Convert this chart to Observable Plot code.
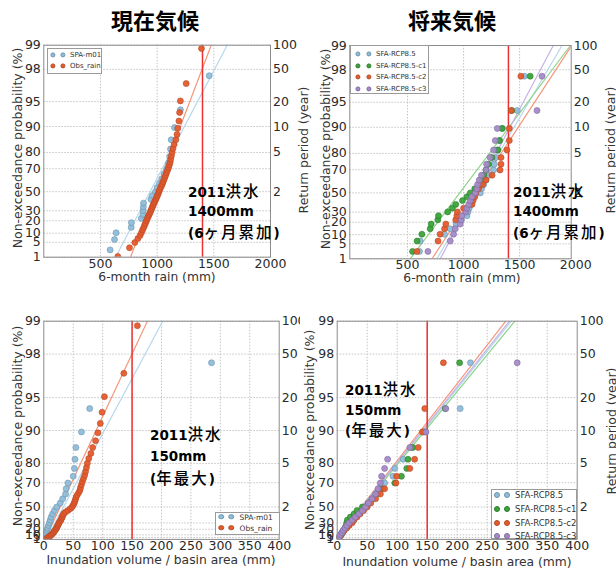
<!DOCTYPE html>
<html><head><meta charset="utf-8">
<script src="https://cdn.jsdelivr.net/npm/d3@7"></script>
<script src="https://cdn.jsdelivr.net/npm/@observablehq/plot@0.6"></script>
<style>
body{margin:0;background:#fff}
#root{position:relative;width:616px;height:568px;overflow:hidden;font-family:"DejaVu Sans",sans-serif;color:#333;background:#fff}
#root svg{position:absolute}
.rot{position:absolute;white-space:nowrap;transform:translate(-50%,-50%) rotate(-90deg);font-size:12.5px;color:#333}
.xt{position:absolute;white-space:nowrap;transform:translate(-50%,-50%);font-size:12.3px;color:#333}
.title{position:absolute;transform:translate(-50%,-50%);font-family:"Noto Sans CJK JP",sans-serif;font-weight:bold;font-size:22px;color:#000;white-space:nowrap}
.ann{position:absolute;white-space:nowrap;color:#000;transform:translateY(-50%)}
.ann b{font-family:"DejaVu Sans",sans-serif;font-weight:bold;font-size:13.5px}
.ann span{font-family:"Noto Sans CJK JP",sans-serif;font-weight:500;font-size:15.5px;letter-spacing:2px}
.leg{position:absolute;background:#fff;border:1px solid #9a9a9a;box-sizing:border-box}
.ld{position:absolute;border-radius:50%;transform:translate(-50%,-50%);box-sizing:border-box}
.lt{position:absolute;transform:translateY(-50%);white-space:nowrap;color:#333;font-family:"DejaVu Sans",sans-serif}
</style></head>
<body>
<div id="root"></div>
<script>
// ---------- axis tick labels ----------
const probTicks = [1, 5, 10, 20, 30, 50, 70, 80, 90, 95, 98, 99];   // non-exceedance probability (%)
const returnTicks = [2, 5, 10, 20, 50, 100];                          // return period (year)
const rainTicks = [500, 1000, 1500, 2000];
const inunTicks = [0, 50, 100, 150, 200, 250, 300, 350, 400];
const fitP = [1, 99];   // probabilities of the fit-line end points

// plotting positions (%) of the ranked samples
const pct25 = [2.4, 6.3, 10.3, 14.3, 18.3, 22.2, 26.2, 30.2, 34.1, 38.1, 42.1, 46.0, 50.0, 54.0, 57.9, 61.9, 65.9, 69.8, 73.8, 77.8, 81.7, 85.7, 89.7, 93.7, 97.6];
const pct53 = [1.1, 3.0, 4.9, 6.8, 8.6, 10.5, 12.4, 14.3, 16.2, 18.0, 19.9, 21.8, 23.7, 25.6, 27.4, 29.3, 31.2, 33.1, 35.0, 36.8, 38.7, 40.6, 42.5, 44.4, 46.2, 48.1, 50.0, 51.9, 53.8, 55.6, 57.5, 59.4, 61.3, 63.2, 65.0, 66.9, 68.8, 70.7, 72.6, 74.4, 76.3, 78.2, 80.1, 82.0, 83.8, 85.7, 87.6, 89.5, 91.4, 93.2, 95.1, 97.0, 98.9];

// ---------- top-left: present climate, 6-month rain (mm) ----------
const tlSPA = [585, 624, 638, 771, 773, 860, 875, 877, 878, 880, 945, 958, 985, 1000, 1020, 1040, 1060, 1085, 1100, 1110, 1118, 1124, 1153, 1205, 1459];
const tlObs = [653, 756, 803, 830, 850, 862, 872, 882, 890, 898, 905, 912, 920, 928, 935, 942, 948, 955, 962, 968, 975, 982, 990, 996, 1003, 1010, 1016, 1022, 1030, 1038, 1046, 1053, 1060, 1068, 1075, 1083, 1092, 1100, 1108, 1115, 1120, 1126, 1132, 1140, 1150, 1165, 1175, 1182, 1192, 1198, 1205, 1256, 1391];
const tlFitSPA = [633, 1618];
const tlFitObs = [765, 1477];

// ---------- top-right: future climate, 6-month rain (mm) ----------
const trBase = [607, 613, 830, 880, 932, 980, 1030, 1040, 1050, 1060, 1070, 1090, 1149, 1160, 1180, 1200, 1230, 1268, 1274, 1289, 1300, 1319, 1348, 1479, 1542];
const trC1 = [545, 585, 628, 702, 711, 770, 776, 858, 900, 930, 990, 1030, 1060, 1100, 1151, 1165, 1180, 1200, 1223, 1253, 1307, 1321, 1342, 1430, 1594];
const trC2 = [584, 772, 791, 830, 842, 930, 940, 945, 1000, 1075, 1085, 1100, 1110, 1134, 1170, 1200, 1254, 1325, 1334, 1334, 1387, 1408, 1408, 1425, 1511];
const trC3 = [682, 881, 911, 926, 970, 979, 985, 1021, 1030, 1045, 1060, 1075, 1104, 1119, 1125, 1140, 1160, 1200, 1205, 1236, 1268, 1283, 1301, 1655, 1700];
const trFitBase = [762, 1878];
const trFitC1 = [524, 1953];
const trFitC2 = [718, 1965];
const trFitC3 = [792, 1800];

// ---------- bottom-left: present climate, inundation volume / basin area (mm) ----------
const blSPA = [0.5, 1.5, 2.5, 3.5, 5, 6.5, 8, 9.5, 11, 12.5, 15, 18, 22, 28, 32, 37, 38, 41, 50, 52, 53, 54.5, 64, 78, 285];
const blObs = [2, 5, 7, 9.5, 11.5, 13.5, 15, 16.5, 17.5, 19, 20.5, 21.5, 22.5, 23.5, 24.5, 25.5, 26.5, 28.5, 29.5, 30.5, 31.5, 32.5, 34, 37, 41, 45, 48, 50, 51.5, 52.7, 54, 55, 57, 59.5, 61.5, 62.5, 64, 65.5, 67.5, 69.5, 71, 72.5, 74, 76.5, 80, 83, 88, 92, 96, 99, 103, 136, 159];
const blFitSPA = [4, 202];
const blFitObs = [2, 176];

// ---------- bottom-right: future climate, inundation volume / basin area (mm) ----------
const brBase = [1, 3, 5, 8, 11, 14, 18, 22, 26, 30, 35, 40, 46, 52, 58, 64, 71, 79, 93, 96, 110, 123, 146, 205, 222];
const brC1 = [1, 4, 7, 9, 11, 13, 15, 16, 17, 22, 28, 33, 42, 52, 59, 66, 75, 96, 107, 116, 118, 126, 144, 180, 204];
const brC2 = [2, 4, 6, 9, 12, 16, 20, 25, 28, 33, 38, 44, 50, 56, 64, 72, 79, 98, 99, 121, 129, 135, 142, 146, 177];
const brC3 = [1, 3, 5, 8, 10, 13, 16, 20, 25, 30, 36, 42, 47, 52, 58, 64, 68, 72, 74, 79, 84, 121, 148, 181, 300];
const brFitBase = [-2, 290];
const brFitC1 = [-2, 296];
const brFitC2 = [-2, 281];
const brFitC3 = [-2, 287];

const flood2011Rain = 1400;
const flood2011Inun = 150;

// ---------- styling ----------
const C = {
  blue:   {fill: "#8fbdd9", edge: "#6b93ad", line: "#b6d7ec"},
  orange: {fill: "#e65a2b", edge: "#b24a29", line: "#f5977a"},
  green:  {fill: "#3aa33a", edge: "#2b7d2b", line: "#8fd48b"},
  purple: {fill: "#a58bc7", edge: "#7d69a1", line: "#c6b2e6"}
};

// probability-paper transforms
const gumbel = p => -Math.log(-Math.log(p / 100));
const expo = p => -Math.log(1 - p / 100);

const root = document.getElementById("root");

function panel(o) {
  const tf = o.tf;
  const leftT = probTicks.map(tf);
  const leftMap = new Map(leftT.map((v, i) => [v, String(probTicks[i])]));
  const rightT = returnTicks.map(T => tf(100 * (1 - 1 / T)));
  const rightMap = new Map(rightT.map((v, i) => [v, String(returnTicks[i])]));
  const gridStyle = {stroke: "#c4c4c4", strokeDasharray: "1.5,1.5", strokeWidth: 1};
  const marks = [
    Plot.ruleX(o.xGrid, gridStyle),
    Plot.ruleY(leftT, gridStyle)
  ];
  for (const f of o.fits) {
    marks.push(Plot.line(fitP.map((p, i) => ({x: f.x[i], y: tf(p)})), {x: "x", y: "y", stroke: f.c.line, strokeWidth: 1.2, clip: true}));
  }
  marks.push(Plot.ruleX([o.red], {stroke: "#ee2f2f", strokeWidth: 1.5}));
  for (const s of o.series) {
    marks.push(Plot.dot(s.x.map((v, i) => ({x: v, y: tf(s.p[i])})), {x: "x", y: "y", r: 3, fill: s.c.fill, fillOpacity: 0.95, stroke: s.c.edge, strokeWidth: 0.6, clip: true}));
  }
  marks.push(Plot.frame({stroke: "#8c8c8c"}));
  marks.push(Plot.axisY(leftT, {anchor: "left", tickSize: 0, tickPadding: 3, tickFormat: d => leftMap.get(d), label: null}));
  marks.push(Plot.axisY(rightT, {anchor: "right", tickSize: 0, tickPadding: 2.5, tickFormat: d => rightMap.get(d), label: null}));
  marks.push(Plot.axisX(o.xTicks, {anchor: "bottom", tickSize: 0, tickPadding: 1.5, tickFormat: d => String(d), label: null}));
  const svg = Plot.plot({
    width: o.w, height: o.h,
    marginTop: o.m[0], marginRight: o.m[1], marginBottom: o.m[2], marginLeft: o.m[3],
    x: {domain: o.xDomain, axis: null},
    y: {domain: [tf(1), tf(99)], axis: null},
    style: {background: o.bg, fontFamily: "DejaVu Sans, sans-serif", fontSize: "12.5px", color: "#2a2a2a", overflow: "visible"},
    marks
  });
  svg.style.left = o.left + "px";
  svg.style.top = o.top + "px";
  root.append(svg);
}

// top-left
panel({left: 0, top: 0, w: 316, h: 290, m: [44.7, 46, 33.3, 43.3], tf: gumbel, bg: "transparent",
  xDomain: [0, 2000], xTicks: rainTicks, xGrid: [500, 1000, 1500], red: flood2011Rain,
  fits: [{x: tlFitSPA, c: C.blue}, {x: tlFitObs, c: C.orange}],
  series: [{x: tlSPA, p: pct25, c: C.blue}, {x: tlObs, p: pct53, c: C.orange}]});
// top-right
panel({left: 300, top: 0, w: 316, h: 290, m: [45, 45.3, 31.7, 49.3], tf: gumbel, bg: "transparent",
  xDomain: [-15, 1960], xTicks: rainTicks, xGrid: [500, 1000, 1500], red: flood2011Rain,
  fits: [{x: trFitBase, c: C.blue}, {x: trFitC1, c: C.green}, {x: trFitC2, c: C.orange}, {x: trFitC3, c: C.purple}],
  series: [{x: trBase, p: pct25, c: C.blue}, {x: trC1, p: pct25, c: C.green}, {x: trC2, p: pct25, c: C.orange}, {x: trC3, p: pct25, c: C.purple}]});
// bottom-left
panel({left: 0, top: 290, w: 316, h: 278, m: [30.7, 37.3, 29.1, 43.3], tf: expo, bg: "transparent",
  xDomain: [0, 400], xTicks: inunTicks, xGrid: [50, 100, 150, 200, 250, 300, 350], red: flood2011Inun,
  fits: [{x: blFitSPA, c: C.blue}, {x: blFitObs, c: C.orange}],
  series: [{x: blSPA, p: pct25, c: C.blue}, {x: blObs, p: pct53, c: C.orange}]});
// bottom-right
panel({left: 300, top: 290, w: 316, h: 278, m: [30.7, 39.3, 29.1, 36.7], tf: expo, bg: "#fff",
  xDomain: [0, 400], xTicks: inunTicks, xGrid: [50, 100, 150, 200, 250, 300, 350], red: flood2011Inun,
  fits: [{x: brFitBase, c: C.blue}, {x: brFitC1, c: C.green}, {x: brFitC2, c: C.orange}, {x: brFitC3, c: C.purple}],
  series: [{x: brBase, p: pct25, c: C.blue}, {x: brC1, p: pct25, c: C.green}, {x: brC2, p: pct25, c: C.orange}, {x: brC3, p: pct25, c: C.purple}]});

// ---------- text overlays ----------
function add(cls, x, y, html, extra) {
  const d = document.createElement("div");
  d.className = cls;
  d.style.left = x + "px";
  d.style.top = y + "px";
  d.innerHTML = html;
  if (extra) Object.assign(d.style, extra);
  root.append(d);
  return d;
}
add("title", 155, 19, "現在気候");
add("title", 452, 19, "将来気候");

const yTitle = "Non-exceedance probability (%)";
const rTitle = "Return period (year)";
add("rot", 17, 148, yTitle);
add("rot", 303, 150, rTitle);
add("rot", 325, 149, yTitle);
add("rot", 610, 150, rTitle);
add("rot", 17, 426, yTitle);
add("rot", 309, 430, yTitle);
add("rot", 611, 431, rTitle);
add("xt", 157, 277, "6-month rain (mm)");
add("xt", 462, 278, "6-month rain (mm)");
add("xt", 161, 560, "Inundation volume / basin area (mm)");
add("xt", 457, 562, "Inundation volume / basin area (mm)");

const annRain = ['<b>2011</b><span>洪水</span>', '<b>1400mm</b>', '<b>(6</b><span>ヶ月累加</span><b>)</b>'];
const annInun = ['<b>2011</b><span>洪水</span>', '<b>150mm</b>', '<b>(</b><span>年最大</span><b>)</b>'];
function ann(x, ys, lines) { lines.forEach((l, i) => add("ann", x, ys[i], l)); }
ann(188, [189.5, 210, 231], annRain);
ann(513, [189.5, 210, 231], annRain);
ann(150, [433, 455, 477], annInun);
ann(345, [387.5, 408.5, 429], annInun);

// ---------- legends ----------
function legend(box, rows, mx, tx, fs, r, items) {
  const b = document.createElement("div");
  b.className = "leg";
  Object.assign(b.style, {left: box[0] + "px", top: box[1] + "px", width: (box[2] - box[0]) + "px", height: (box[3] - box[1]) + "px"});
  root.append(b);
  items.forEach((it, i) => {
    for (const m of mx) {
      add("ld", m, rows[i], "", {width: 2 * r + "px", height: 2 * r + "px", background: it.c.fill, border: "0.6px solid " + it.c.edge});
    }
    add("lt", tx, rows[i], it.name, {fontSize: fs + "px"});
  });
}
legend([46.5, 48, 102, 73.5], [54.5, 66], [52.5, 62.5], 70, 7, 2.6,
  [{name: "SPA-m01", c: C.blue}, {name: "Obs_rain", c: C.orange}]);
legend([350, 45, 428.5, 93.5], [54, 65.5, 77, 88.5], [357.5, 368.5], 376, 7, 2.6,
  [{name: "SFA-RCP8.5", c: C.blue}, {name: "SFA-RCP8.5-c1", c: C.green}, {name: "SFA-RCP8.5-c2", c: C.orange}, {name: "SFA-RCP8.5-c3", c: C.purple}]);
legend([215, 511.5, 279.5, 535], [516.5, 527.5], [221, 231], 239.5, 7.5, 2.8,
  [{name: "SPA-m01", c: C.blue}, {name: "Obs_rain", c: C.orange}]);
legend([490.5, 488.5, 576.5, 539], [494.5, 508.5, 522.5, 535.5], [497, 507], 515, 8.5, 3,
  [{name: "SFA-RCP8.5", c: C.blue}, {name: "SFA-RCP8.5-c1", c: C.green}, {name: "SFA-RCP8.5-c2", c: C.orange}, {name: "SFA-RCP8.5-c3", c: C.purple}]);
</script>
</body></html>
